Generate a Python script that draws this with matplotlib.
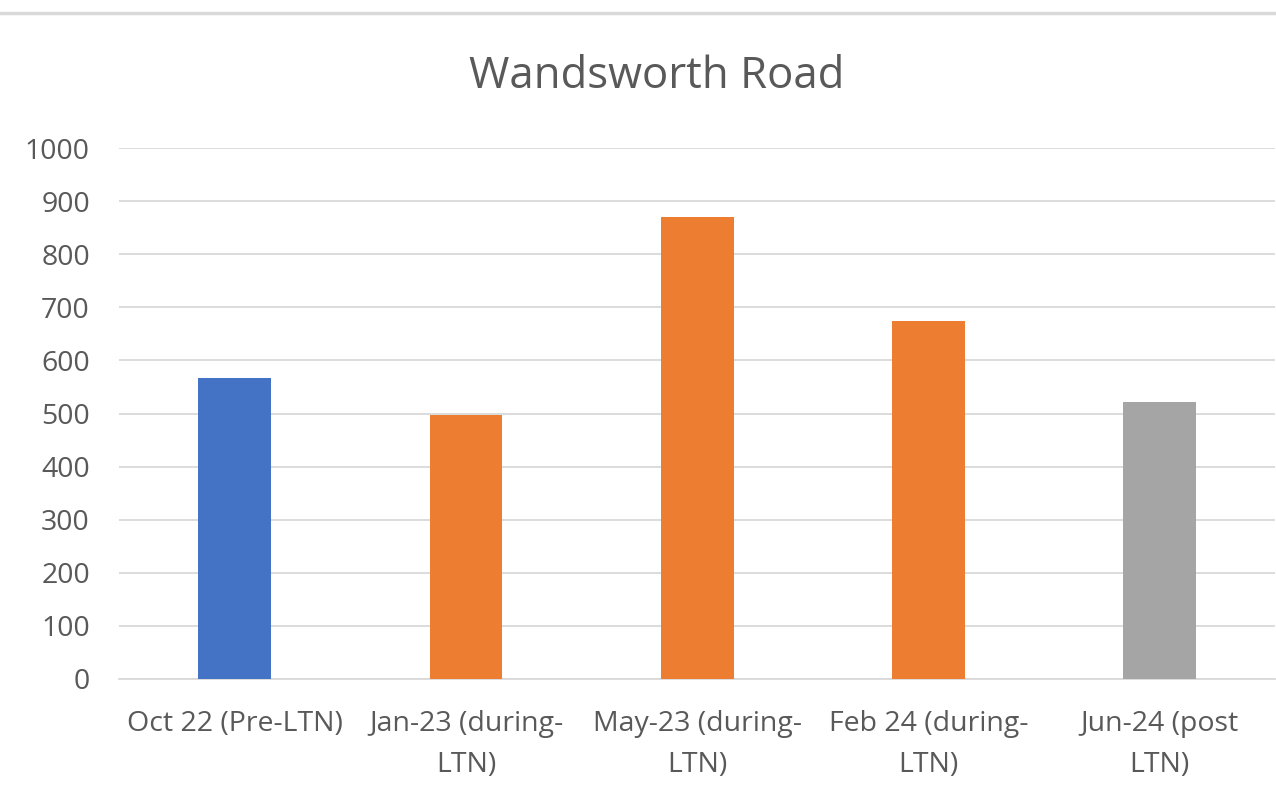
import matplotlib.pyplot as plt
from matplotlib.lines import Line2D

categories = ['Oct 22 (Pre-LTN)', 'Jan-23 (during-\nLTN)', 'May-23 (during-\nLTN)',
              'Feb 24 (during-\nLTN)', 'Jun-24 (post\nLTN)']
values = [567, 498, 871, 675, 521]
colors = ['#4472C4', '#ED7D31', '#ED7D31', '#ED7D31', '#A5A5A5']

plt.rcParams['font.family'] = ['Open Sans', 'DejaVu Sans']

fig = plt.figure(figsize=(12.76, 7.96), dpi=100)
ax = fig.add_axes([0.0933, 0.147, 0.9063, 0.667])

x = range(len(categories))
ax.bar(x, values, width=0.315, color=colors, zorder=3)

ax.set_xlim(-0.5, len(categories) - 0.5)
ax.set_ylim(0, 1000)
ax.set_yticks(range(0, 1001, 100))
ax.set_xticks(list(x))
ax.set_xticklabels(categories, linespacing=1.65)
ax.grid(axis='y', color='#d9d9d9', linewidth=1.3, zorder=0)
ax.tick_params(axis='both', length=0, labelsize=20.5, colors='#595959')
ax.tick_params(axis='x', pad=22)
ax.tick_params(axis='y', pad=21)
for s in ['top', 'right', 'left']:
    ax.spines[s].set_visible(False)
ax.spines['bottom'].set_color('#d9d9d9')
ax.spines['bottom'].set_linewidth(1.3)

fig.text(0.515, 0.903, 'Wandsworth Road', ha='center', va='center',
         fontsize=31.5, color='#595959')

# thin border line at the very top of the screenshot
fig.add_artist(Line2D([0, 1], [0.984, 0.984], color='#d9d9d9', linewidth=2.5,
                      transform=fig.transFigure))

fig.savefig('out.png', dpi=100)
